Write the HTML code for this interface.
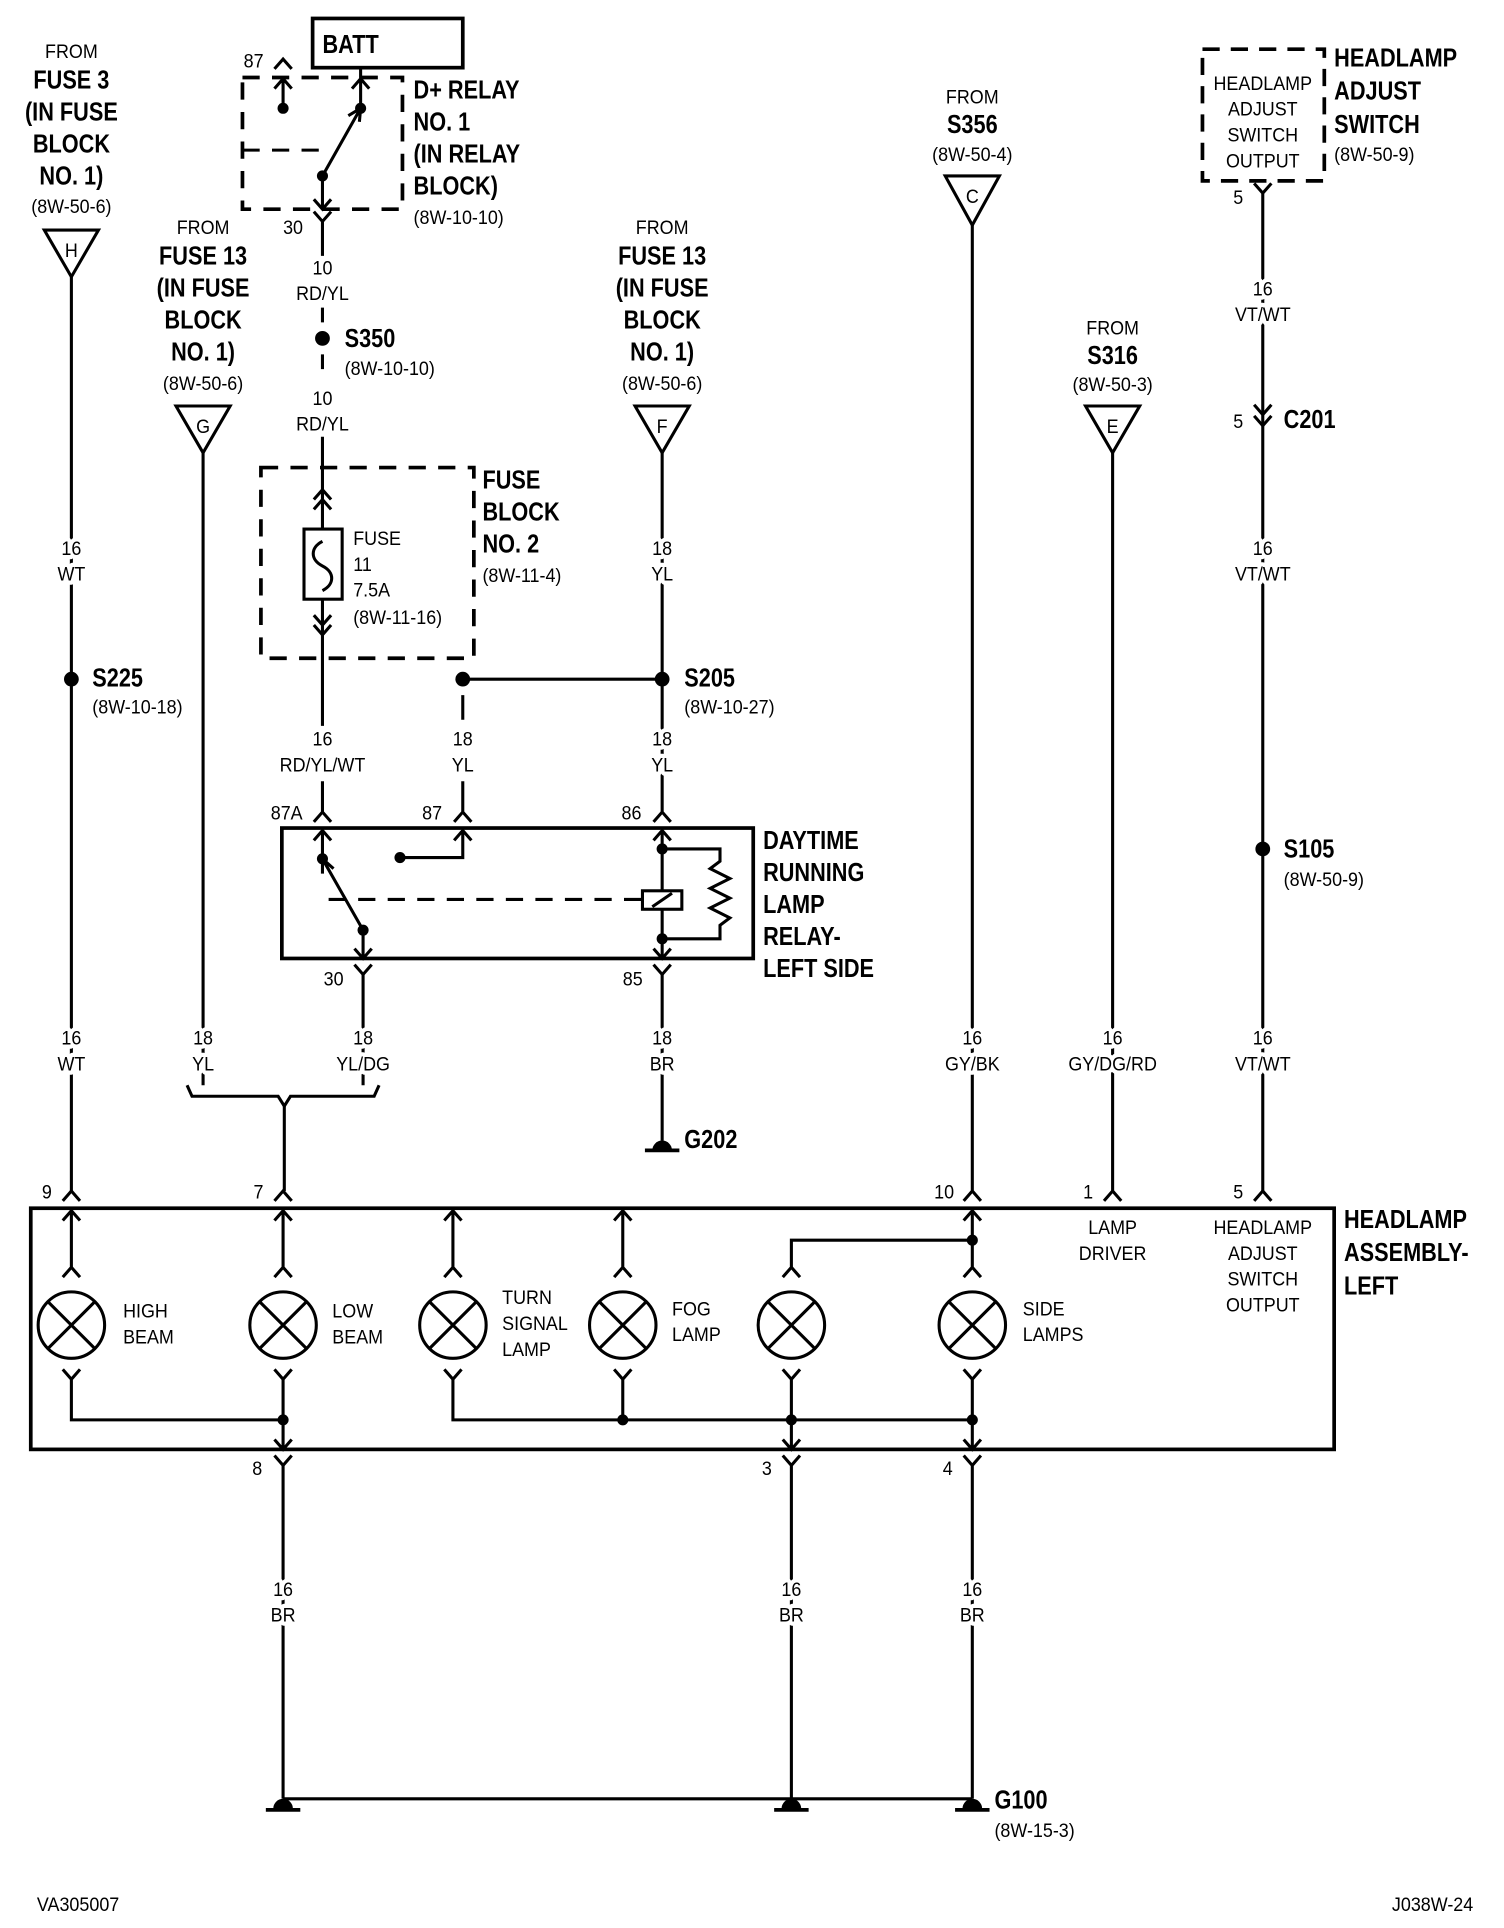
<!DOCTYPE html>
<html><head><meta charset="utf-8"><style>
html,body{margin:0;padding:0;background:#fff;}
svg{display:block;}
text{font-family:"Liberation Sans Narrow","Liberation Sans",sans-serif;fill:#000;transform-box:fill-box;transform:scaleX(.84);transform-origin:left center;}
text.s{transform:scaleX(.91);}
text.c{transform-origin:center center;}
text.e{transform-origin:right center;}
.b{font-weight:bold;font-size:21px;}
.s{font-size:16px;}
.c{text-anchor:middle;}
.w{paint-order:stroke;stroke:#fff;stroke-width:7px;stroke-linejoin:round;}
</style></head><body>
<svg width="1504" height="1928" viewBox="0 0 1222 1567" preserveAspectRatio="none" xmlns="http://www.w3.org/2000/svg">
<g fill="none" stroke="#000" stroke-width="2.5">
<path d="M36,187 L80,187 L58,225 Z"/>
<path d="M58,225 V968"/>
<path d="M51,976 L58,968 L65,976"/>
<path d="M143,330 L187,330 L165,368 Z"/>
<path d="M165,368 V882"/>
<path d="M152,882 L156,891 L226,891 L231,899 L236,891 L304,891 L308,882"/>
<path d="M231,899 V968"/>
<path d="M223,976 L230,968 L237,976"/>
<path d="M295,792 V882"/>
<rect x="254" y="15" width="122" height="40" stroke-width="3"/>
<path d="M197,63 H327 V170 H197 Z" stroke-width="3" stroke-dasharray="14,10"/>
<path d="M197,122 H262" stroke-dasharray="14,10"/>
<path d="M223,56 L230,48 L237,56"/>
<path d="M230,64 V88 M223,72 L230,64 L237,72"/>
<path d="M293,55 V88 M286,72 L293,64 L300,72"/>
<path d="M262,143 L293,88 M283,94 L293,88 L292,99"/>
<path d="M262,143 V170 M255,162 L262,170 L269,162"/>
<path d="M255,172 L262,180 L269,172 M262,180 V208"/>
<path d="M262,250 V262 M262,288 V300 M262,355 V398"/>
<path d="M212,380 H385 V535 H212 Z" stroke-width="3" stroke-dasharray="14,10"/>
<path d="M255,406 L262,398 L269,406 M255,414 L262,406 L269,414 M262,398 V430"/>
<rect x="247" y="430" width="31" height="57"/>
<path d="M262,440 C252,445 252,455 262,460 C272,465 272,475 262,480"/>
<path d="M262,487 V515 M255,500 L262,508 L269,500 M255,508 L262,516 L269,508"/>
<path d="M262,516 V590"/>
<path d="M262,635 V660 M255,668 L262,660 L269,668"/>
<path d="M376,552 H538"/>
<path d="M376,565 V585 M376,635 V660 M369,668 L376,660 L383,668"/>
<path d="M516,330 L560,330 L538,368 Z"/>
<path d="M538,368 V660 M531,668 L538,660 L545,668"/>
<rect x="229" y="673" width="383" height="106" stroke-width="3"/>
<path d="M262,675 V698 M255,683 L262,675 L269,683"/>
<path d="M295,756 L262,698 M262,710 L262,698 L271,706"/>
<path d="M295,756 V779 M288,771 L295,779 L302,771"/>
<path d="M325,697 H376 V675 M369,683 L376,675 L383,683"/>
<path d="M267,731 H522" stroke-dasharray="14,10"/>
<path d="M538,675 V724 M531,683 L538,675 L545,683"/>
<rect x="522" y="724" width="32" height="15"/>
<path d="M530,737 L546,726"/>
<path d="M538,739 V779 M531,771 L538,779 L545,771"/>
<path d="M538,690 H585 V700 L577,706 L593,714 L577,722 L593,730 L577,738 L593,746 L585,752 V763 H538"/>
<path d="M288,784 L295,792 L302,784 M531,784 L538,792 L545,784"/>
<path d="M538,792 V927"/>
<path d="M524,935 H552" stroke-width="3"/>
<path d="M768,143 L812,143 L790,183 Z"/>
<path d="M790,183 V968 M783,976 L790,968 L797,976"/>
<path d="M882,330 L926,330 L904,368 Z"/>
<path d="M904,368 V968 M897,976 L904,968 L911,976"/>
<path d="M977,40 H1076 V147 H977 Z" stroke-width="3" stroke-dasharray="14,9"/>
<path d="M1019,149 L1026,157 L1033,149 M1026,157 V968"/>
<path d="M1019,329 L1026,337 L1033,329 M1019,338 L1026,346 L1033,338"/>
<path d="M1019,976 L1026,968 L1033,976"/>
<rect x="25" y="982" width="1059" height="196" stroke-width="3"/>
<g>
<circle cx="58" cy="1077" r="27"/><circle cx="230" cy="1077" r="27"/><circle cx="368" cy="1077" r="27"/>
<circle cx="506" cy="1077" r="27"/><circle cx="643" cy="1077" r="27"/><circle cx="790" cy="1077" r="27"/>
<path d="M39,1058 L77,1096 M77,1058 L39,1096 M211,1058 L249,1096 M249,1058 L211,1096 M349,1058 L387,1096 M387,1058 L349,1096 M487,1058 L525,1096 M525,1058 L487,1096 M624,1058 L662,1096 M662,1058 L624,1096 M771,1058 L809,1096 M809,1058 L771,1096"/>
</g>
<path d="M58,984 V1030 M51,992 L58,984 L65,992 M51,1038 L58,1030 L65,1038"/>
<path d="M230,984 V1030 M223,992 L230,984 L237,992 M223,1038 L230,1030 L237,1038"/>
<path d="M368,984 V1030 M361,992 L368,984 L375,992 M361,1038 L368,1030 L375,1038"/>
<path d="M506,984 V1030 M499,992 L506,984 L513,992 M499,1038 L506,1030 L513,1038"/>
<path d="M790,984 V1030 M783,992 L790,984 L797,992 M783,1038 L790,1030 L797,1038"/>
<path d="M643,1030 V1008 H790 M636,1038 L643,1030 L650,1038"/>
<path d="M51,1113 L58,1121 L65,1113 M58,1121 V1154 H230"/>
<path d="M223,1113 L230,1121 L237,1113 M230,1121 V1178 M223,1170 L230,1178 L237,1170"/>
<path d="M361,1113 L368,1121 L375,1113 M368,1121 V1154 H790"/>
<path d="M499,1113 L506,1121 L513,1113 M506,1121 V1154"/>
<path d="M636,1113 L643,1121 L650,1113 M643,1121 V1178 M636,1170 L643,1178 L650,1170"/>
<path d="M783,1113 L790,1121 L797,1113 M790,1121 V1178 M783,1170 L790,1178 L797,1170"/>
<path d="M223,1183 L230,1191 L237,1183 M230,1191 V1462"/>
<path d="M636,1183 L643,1191 L650,1183 M643,1191 V1462"/>
<path d="M783,1183 L790,1191 L797,1183 M790,1191 V1462"/>
<path d="M230,1462 H790"/>
<path d="M216,1471 H244 M629,1471 H657 M776,1471 H804" stroke-width="3"/>
</g>
<g fill="#000">
<circle cx="230" cy="88" r="4.5"/><circle cx="293" cy="88" r="4.5"/><circle cx="262" cy="143" r="4.5"/>
<circle cx="262" cy="275" r="6"/>
<circle cx="58" cy="552" r="6"/><circle cx="376" cy="552" r="6"/><circle cx="538" cy="552" r="6"/>
<circle cx="262" cy="698" r="4.5"/><circle cx="295" cy="756" r="4.5"/><circle cx="325" cy="697" r="4.5"/>
<circle cx="538" cy="690" r="4.5"/><circle cx="538" cy="763" r="4.5"/>
<circle cx="1026" cy="690" r="6"/>
<circle cx="790" cy="1008" r="4.5"/>
<circle cx="230" cy="1154" r="4.5"/><circle cx="506" cy="1154" r="4.5"/><circle cx="643" cy="1154" r="4.5"/><circle cx="790" cy="1154" r="4.5"/>
<path d="M530,935 A8,8 0 0 1 546,935 Z"/>
<path d="M222,1470 A8,8 0 0 1 238,1470 Z"/><path d="M635,1470 A8,8 0 0 1 651,1470 Z"/><path d="M782,1470 A8,8 0 0 1 798,1470 Z"/>
</g>
<g>
<text class="s c" x="58" y="47">FROM</text>
<text class="b c" x="58" y="72">FUSE 3</text>
<text class="b c" x="58" y="98">(IN FUSE</text>
<text class="b c" x="58" y="124">BLOCK</text>
<text class="b c" x="58" y="150">NO. 1)</text>
<text class="s c" x="58" y="173">(8W-50-6)</text>
<text class="s c" x="58" y="209">H</text>
<text class="s c w" x="58" y="451">16</text><text class="s c w" x="58" y="472">WT</text>
<text class="b" x="75" y="558">S225</text><text class="s" x="75" y="580">(8W-10-18)</text>
<text class="s c w" x="58" y="849">16</text><text class="s c w" x="58" y="870">WT</text>
<text class="s" x="34" y="974">9</text>

<text class="s c" x="165" y="190">FROM</text>
<text class="b c" x="165" y="215">FUSE 13</text>
<text class="b c" x="165" y="241">(IN FUSE</text>
<text class="b c" x="165" y="267">BLOCK</text>
<text class="b c" x="165" y="293">NO. 1)</text>
<text class="s c" x="165" y="317">(8W-50-6)</text>
<text class="s c" x="165" y="352">G</text>
<text class="s c w" x="165" y="849">18</text><text class="s c w" x="165" y="870">YL</text>
<text class="s c w" x="295" y="849">18</text><text class="s c w" x="295" y="870">YL/DG</text>
<text class="s" x="206" y="974">7</text>

<text class="b" x="262" y="43">BATT</text>
<text class="s" x="198" y="55">87</text>
<text class="b" x="336" y="80">D+ RELAY</text>
<text class="b" x="336" y="106">NO. 1</text>
<text class="b" x="336" y="132">(IN RELAY</text>
<text class="b" x="336" y="158">BLOCK)</text>
<text class="s" x="336" y="182">(8W-10-10)</text>
<text class="s" x="230" y="190">30</text>
<text class="s c" x="262" y="223">10</text><text class="s c" x="262" y="244">RD/YL</text>
<text class="b" x="280" y="282">S350</text><text class="s" x="280" y="305">(8W-10-10)</text>
<text class="s c" x="262" y="329">10</text><text class="s c" x="262" y="350">RD/YL</text>
<text class="b" x="392" y="397">FUSE</text>
<text class="b" x="392" y="423">BLOCK</text>
<text class="b" x="392" y="449">NO. 2</text>
<text class="s" x="392" y="473">(8W-11-4)</text>
<text class="s" x="287" y="443">FUSE</text>
<text class="s" x="287" y="464">11</text>
<text class="s" x="287" y="485">7.5A</text>
<text class="s" x="287" y="507">(8W-11-16)</text>
<text class="s c w" x="262" y="606">16</text><text class="s c w" x="262" y="627">RD/YL/WT</text>
<text class="s c w" x="376" y="606">18</text><text class="s c w" x="376" y="627">YL</text>
<text class="s" x="220" y="666">87A</text>
<text class="s" x="343" y="666">87</text>
<text class="s" x="505" y="666">86</text>
<text class="s" x="263" y="801">30</text>
<text class="s" x="506" y="801">85</text>

<text class="s c" x="538" y="190">FROM</text>
<text class="b c" x="538" y="215">FUSE 13</text>
<text class="b c" x="538" y="241">(IN FUSE</text>
<text class="b c" x="538" y="267">BLOCK</text>
<text class="b c" x="538" y="293">NO. 1)</text>
<text class="s c" x="538" y="317">(8W-50-6)</text>
<text class="s c" x="538" y="352">F</text>
<text class="s c w" x="538" y="451">18</text><text class="s c w" x="538" y="472">YL</text>
<text class="b" x="556" y="558">S205</text><text class="s" x="556" y="580">(8W-10-27)</text>
<text class="s c w" x="538" y="606">18</text><text class="s c w" x="538" y="627">YL</text>
<text class="b" x="620" y="690">DAYTIME</text>
<text class="b" x="620" y="716">RUNNING</text>
<text class="b" x="620" y="742">LAMP</text>
<text class="b" x="620" y="768">RELAY-</text>
<text class="b" x="620" y="794">LEFT SIDE</text>
<text class="s c w" x="538" y="849">18</text><text class="s c w" x="538" y="870">BR</text>
<text class="b" x="556" y="933">G202</text>

<text class="s c" x="790" y="84">FROM</text>
<text class="b c" x="790" y="108">S356</text>
<text class="s c" x="790" y="131">(8W-50-4)</text>
<text class="s c" x="790" y="165">C</text>
<text class="s c w" x="790" y="849">16</text><text class="s c w" x="790" y="870">GY/BK</text>
<text class="s" x="759" y="974">10</text>

<text class="s c" x="904" y="272">FROM</text>
<text class="b c" x="904" y="296">S316</text>
<text class="s c" x="904" y="318">(8W-50-3)</text>
<text class="s c" x="904" y="352">E</text>
<text class="s c w" x="904" y="849">16</text><text class="s c w" x="904" y="870">GY/DG/RD</text>
<text class="s" x="880" y="974">1</text>

<text class="s c" x="1026" y="73">HEADLAMP</text>
<text class="s c" x="1026" y="94">ADJUST</text>
<text class="s c" x="1026" y="115">SWITCH</text>
<text class="s c" x="1026" y="136">OUTPUT</text>
<text class="b" x="1084" y="54">HEADLAMP</text>
<text class="b" x="1084" y="81">ADJUST</text>
<text class="b" x="1084" y="108">SWITCH</text>
<text class="s" x="1084" y="131">(8W-50-9)</text>
<text class="s" x="1002" y="166">5</text>
<text class="s c w" x="1026" y="240">16</text><text class="s c w" x="1026" y="261">VT/WT</text>
<text class="s" x="1002" y="348">5</text><text class="b" x="1043" y="348">C201</text>
<text class="s c w" x="1026" y="451">16</text><text class="s c w" x="1026" y="472">VT/WT</text>
<text class="b" x="1043" y="697">S105</text><text class="s" x="1043" y="720">(8W-50-9)</text>
<text class="s c w" x="1026" y="849">16</text><text class="s c w" x="1026" y="870">VT/WT</text>
<text class="s" x="1002" y="974">5</text>

<text class="b" x="1092" y="998">HEADLAMP</text>
<text class="b" x="1092" y="1025">ASSEMBLY-</text>
<text class="b" x="1092" y="1052">LEFT</text>
<text class="s c" x="904" y="1003">LAMP</text>
<text class="s c" x="904" y="1024">DRIVER</text>
<text class="s c" x="1026" y="1003">HEADLAMP</text>
<text class="s c" x="1026" y="1024">ADJUST</text>
<text class="s c" x="1026" y="1045">SWITCH</text>
<text class="s c" x="1026" y="1066">OUTPUT</text>

<text class="s" x="100" y="1071">HIGH</text><text class="s" x="100" y="1092">BEAM</text>
<text class="s" x="270" y="1071">LOW</text><text class="s" x="270" y="1092">BEAM</text>
<text class="s" x="408" y="1060">TURN</text><text class="s" x="408" y="1081">SIGNAL</text><text class="s" x="408" y="1102">LAMP</text>
<text class="s" x="546" y="1069">FOG</text><text class="s" x="546" y="1090">LAMP</text>
<text class="s" x="831" y="1069">SIDE</text><text class="s" x="831" y="1090">LAMPS</text>

<text class="s" x="205" y="1199">8</text>
<text class="s" x="619" y="1199">3</text>
<text class="s" x="766" y="1199">4</text>
<text class="s c w" x="230" y="1297">16</text><text class="s c w" x="230" y="1318">BR</text>
<text class="s c w" x="643" y="1297">16</text><text class="s c w" x="643" y="1318">BR</text>
<text class="s c w" x="790" y="1297">16</text><text class="s c w" x="790" y="1318">BR</text>
<text class="b" x="808" y="1470">G100</text>
<text class="s" x="808" y="1493">(8W-15-3)</text>
<text class="s" x="30" y="1553">VA305007</text>
<text class="s e" x="1197" y="1553" text-anchor="end">J038W-24</text>
</g>
</svg>
</body></html>
